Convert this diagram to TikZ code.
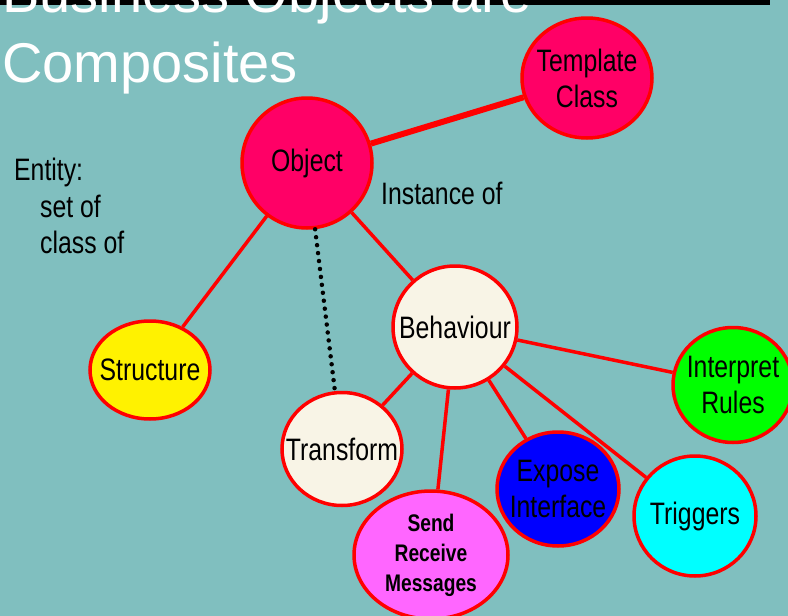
\documentclass[tikz,border=0pt]{standalone}
\usepackage{fontspec}
\setmainfont{Liberation Sans}
\newfontfamily\lblfont[FakeStretch=0.8]{Liberation Sans}
\usetikzlibrary{shapes.geometric}
\definecolor{slidebg}{RGB}{128,191,191}
\definecolor{objpink}{RGB}{255,0,102}
\definecolor{cream}{RGB}{248,244,230}
\definecolor{sendpink}{RGB}{255,102,255}
\definecolor{exposeblue}{RGB}{0,0,255}
\definecolor{trigcyan}{RGB}{0,255,255}
\definecolor{rulegreen}{RGB}{0,255,0}
\definecolor{edgered}{RGB}{255,0,0}

\begin{document}
\begin{tikzpicture}[
  x=1pt, y=-1pt,
  font=\lblfont\fontsize{31}{36}\selectfont,
  blob/.style={ellipse, draw=edgered, line width=3.5pt, inner sep=-40pt, align=center},
  link/.style={draw=edgered, line width=3.5pt},
  lbl/.style={anchor=base west, inner sep=0pt},
]
\useasboundingbox (0,0) rectangle (788,616);
\fill[slidebg] (0,0) rectangle (788,616);
\fill[black] (0,0) rectangle (770,4.5);
% title
\node[lbl, text=white, font=\fontsize{56}{66}\selectfont] (title1) at (2,12) {Business Objects are};
\node[lbl, text=white, font=\fontsize{56}{66}\selectfont] (title2) at (2,82) {Composites};
% nodes
\node[blob, fill=objpink, minimum width=130, minimum height=130] (obj) at (307,163) {Object};
\node[blob, fill=objpink, minimum width=130, minimum height=120] (tmpl) at (587,78) {Template\\Class};
\node[blob, fill=cream, minimum width=124, minimum height=122] (beh) at (455,327) {Behaviour};
\node[blob, fill=yellow, minimum width=120, minimum height=98] (struct) at (150,370) {Structure};
\node[blob, fill=cream, minimum width=120, minimum height=113] (trans) at (342,449) {Transform};
\node[blob, fill=sendpink, minimum width=154, minimum height=128,
      font=\lblfont\bfseries\fontsize{24}{30}\selectfont] (send) at (431,555) {Send\\Receive\\Messages};
\node[blob, fill=exposeblue, minimum width=122, minimum height=114] (expose) at (558,489) {Expose\\Interface};
\node[blob, fill=trigcyan, minimum width=122, minimum height=120] (trig) at (695,516) {Triggers};
\node[blob, fill=rulegreen, minimum width=120, minimum height=115] (interp) at (733,385) {Interpret\\Rules};
% text
\node[lbl] (ent) at (14,180) {Entity:};
\node[lbl] (entset) at (40,217) {set of};
\node[lbl] (entclass) at (40,253) {class of};
\node[lbl] (inst) at (381,204) {Instance of};
% links
\draw[link, line width=6pt] (obj) -- (tmpl);
\draw[link] (obj) -- (struct);
\draw[link] (obj) -- (beh);
\draw[black, line width=4.5pt, line cap=round, dash pattern=on 0pt off 8pt] (obj) -- (trans);
\draw[link] (beh) -- (trans);
\draw[link] (beh) -- (send);
\draw[link] (beh) -- (expose);
\draw[link] (beh) -- (trig);
\draw[link] (beh) -- (interp);
\end{tikzpicture}
\end{document}
